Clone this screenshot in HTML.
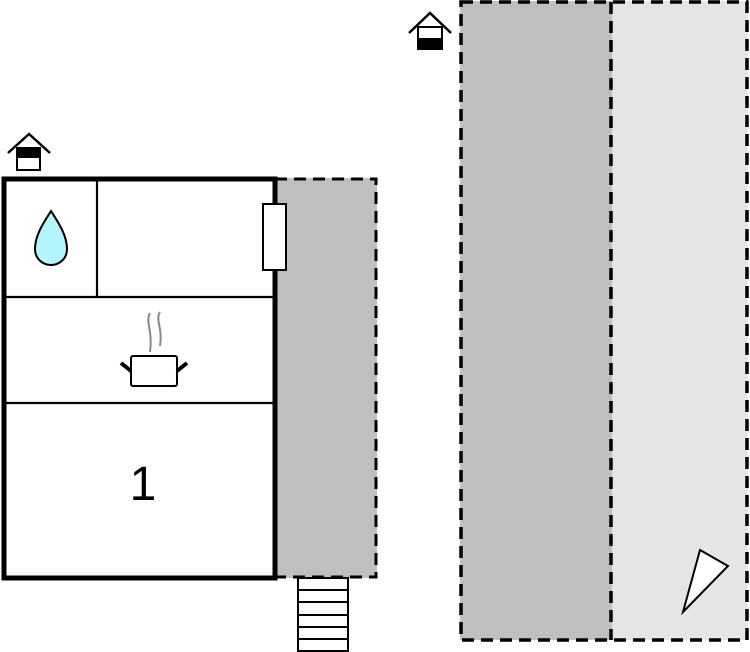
<!DOCTYPE html>
<html><head><style>body{margin:0;background:#fff}svg{display:block}</style></head><body>
<svg width="750" height="652" viewBox="0 0 750 652" xmlns="http://www.w3.org/2000/svg">
<rect x="460" y="1" width="152" height="639" fill="#bfbfbf"/>
<rect x="612" y="1" width="136" height="639" fill="#e5e5e5"/>
<g fill="none" stroke="#000" stroke-width="3.5" stroke-dasharray="12,7">
<rect x="461" y="2" width="286" height="638"/>
<line x1="611" y1="2" x2="611" y2="640"/>
</g>
<polygon points="700,550 728,566 683,612" fill="#fff" stroke="#000" stroke-width="2"/>
<rect x="275" y="178" width="102" height="400" fill="#bfbfbf"/>
<path d="M275 179 H376 V577 H275" fill="none" stroke="#000" stroke-width="3" stroke-dasharray="12,7"/>
<rect x="4" y="179" width="271" height="399" fill="#fff" stroke="#000" stroke-width="5"/>
<g stroke="#000" stroke-width="2.2">
<line x1="4" y1="297" x2="273" y2="297"/>
<line x1="4" y1="403" x2="273" y2="403"/>
<line x1="97" y1="179" x2="97" y2="297"/>
</g>
<rect x="263" y="204" width="23" height="66" fill="#fff" stroke="#000" stroke-width="2"/>
<path d="M51 211 C44 222 35 235 35 249 C35 259 43 265 51 265 C59 265 67 259 67 249 C67 235 58 222 51 211 Z" fill="#b3f5fb" stroke="#000" stroke-width="2"/>
<path d="M150 313 C145 322 153 330 150 352 M160 312 C155 320 163 328 160 346" fill="none" stroke="#888" stroke-width="2"/>
<rect x="131" y="356" width="46" height="30" rx="2" fill="#fff" stroke="#000" stroke-width="2"/>
<line x1="121" y1="363" x2="131" y2="371" stroke="#000" stroke-width="4"/>
<line x1="187" y1="363" x2="177" y2="371" stroke="#000" stroke-width="4"/>
<text x="143" y="500" font-family="Liberation Sans, sans-serif" font-size="48" text-anchor="middle">1</text>
<rect x="298" y="578" width="50" height="73" fill="#fff" stroke="#000" stroke-width="2"/>
<g stroke="#000" stroke-width="2">
<line x1="298" y1="590" x2="348" y2="590"/><line x1="298" y1="602" x2="348" y2="602"/>
<line x1="298" y1="615" x2="348" y2="615"/><line x1="298" y1="627" x2="348" y2="627"/>
<line x1="298" y1="639" x2="348" y2="639"/>
</g>
<g>
<polyline points="8,153 29,134 50,153" fill="none" stroke="#000" stroke-width="2.5"/>
<rect x="17" y="148" width="23" height="22" fill="#fff" stroke="#000" stroke-width="2"/>
<rect x="17" y="148" width="23" height="10" fill="#000"/>
</g>
<g>
<polyline points="409,33 430,13 451,33" fill="none" stroke="#000" stroke-width="2.5"/>
<rect x="418" y="27" width="24" height="22" fill="#fff" stroke="#000" stroke-width="2"/>
<rect x="418" y="38" width="24" height="11" fill="#000"/>
</g>
</svg>
</body></html>
